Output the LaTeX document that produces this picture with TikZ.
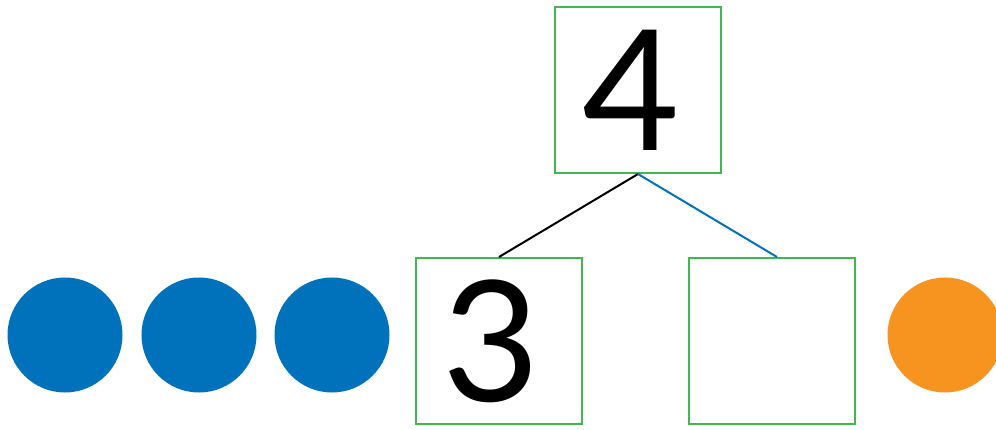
\documentclass[tikz,border=0pt]{standalone}
\usepackage{fontspec}
\setmainfont{Lato}
\usetikzlibrary{positioning}
\definecolor{boxgreen}{RGB}{64,184,76}
\definecolor{dotblue}{RGB}{0,114,188}
\definecolor{dotorange}{RGB}{247,148,32}
\tikzset{
  numbox/.style={draw=boxgreen,line width=2pt,minimum size=166pt,inner sep=0pt,
    font=\fontsize{168}{168}\selectfont},
  dot/.style={circle,fill=#1,minimum size=115pt,inner sep=0pt}
}
\begin{document}
\begin{tikzpicture}[x=1pt,y=-1pt]
				\useasboundingbox (0,0) rectangle (996,430);
				\node[numbox] (whole) at (638,90) {\kern-14pt 4};
				\node[numbox] (partA) at (499,341) {\kern-16pt 3};
				\node[numbox] (partB) at (772,341) {};
%				counters
				\node[dot=dotblue] (d1) at (65,335) {};
				\node[dot=dotblue] (d2) at (199,335) {};
				\node[dot=dotblue] (d3) at (332,335) {};
				\node[dot=dotorange] (d4) at (945,335) {};
				\draw[line width=2pt] (whole.south) -- (partA.north);
				\draw[line width=2pt,dotblue] (whole.south) -- ([xshift=5pt]partB.north);
\end{tikzpicture}
\end{document}
